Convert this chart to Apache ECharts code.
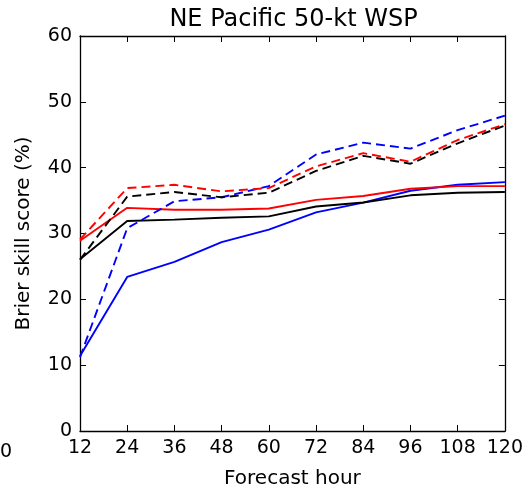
<!DOCTYPE html>
<html><head><meta charset="utf-8">
<script src="https://cdn.jsdelivr.net/npm/echarts@6/dist/echarts.min.js"></script>
<style>html,body{margin:0;padding:0;background:#fff}#c{width:526px;height:494px}</style>
</head><body><div id="c"></div>
<script>
const hours = [12,24,36,48,60,72,84,96,108,120];
const blueSolid = [11.4,23.4,25.7,28.7,30.6,33.2,34.7,36.5,37.4,37.8];
const redSolid = [28.9,33.9,33.6,33.6,33.8,35.1,35.7,36.8,37.2,37.2];
const blackSolid = [26.1,31.9,32.1,32.4,32.6,34.1,34.7,35.8,36.2,36.3];
const blueDashed = [11.2,30.8,34.9,35.5,37.2,42.0,43.8,42.9,45.7,47.9];
const blackDashed = [26.0,35.6,36.3,35.5,36.2,39.5,41.8,40.6,43.7,46.4];
const redDashed = [29.1,36.9,37.4,36.4,36.9,40.2,42.2,40.9,44.2,46.6];

const FONT = 'DejaVu Sans';
function mk(vals, color, dashed){
  return {type:'line', data: hours.map((h,i)=>[h, vals[i]]), symbol:'none', silent:true,
    lineStyle:{color, width:1.9, type: dashed ? [9,5] : 'solid'}, animation:false, clip:true};
}
const axisCommon = {axisLine:{show:true,onZero:false,lineStyle:{color:'#000',width:1.3}},
  axisTick:{show:true,inside:true,length:6,lineStyle:{color:'#000',width:1}},
  splitLine:{show:false}};
const chart = echarts.init(document.getElementById('c'), null, {renderer:'canvas'});
chart.setOption({
  animation:false,
  grid:{left:80, right:20, top:36, bottom:58.5},
  xAxis:[
    Object.assign({type:'value', min:12, max:120, interval:12, position:'bottom',
      name:'Forecast hour', nameLocation:'middle', nameGap:38,
      nameTextStyle:{fontFamily:FONT, fontSize:20, color:'#000'},
      axisLabel:{fontFamily:FONT, fontSize:19, color:'#000', margin:8}}, axisCommon),
    Object.assign({type:'value', min:12, max:120, interval:12, position:'top',
      axisLabel:{show:false}}, axisCommon)
  ],
  yAxis:[
    Object.assign({type:'value', min:0, max:60, interval:10, position:'left',
      name:'Brier skill score (%)', nameLocation:'middle', nameGap:46,
      nameTextStyle:{fontFamily:FONT, fontSize:20, color:'#000'},
      axisLabel:{fontFamily:FONT, fontSize:19, color:'#000', margin:8}}, axisCommon),
    Object.assign({type:'value', min:0, max:60, interval:10, position:'right',
      axisLabel:{show:false}}, axisCommon)
  ],
  graphic:[
    {type:'text', x:293.5, y:20, style:{text:'NE Pacific 50-kt WSP', font:'24px "DejaVu Sans"', fill:'#000', textAlign:'center', textVerticalAlign:'middle'}},
    {type:'text', left:0, top:443, style:{text:'0', font:'19px "DejaVu Sans"', fill:'#000'}}
  ],
  series:[
    mk(blueSolid,'#0000ff',false),
    mk(redSolid,'#ff0000',false),
    mk(blackSolid,'#000000',false),
    mk(blueDashed,'#0000ff',true),
    mk(blackDashed,'#000000',true),
    mk(redDashed,'#ff0000',true)
  ]
});
</script></body></html>
